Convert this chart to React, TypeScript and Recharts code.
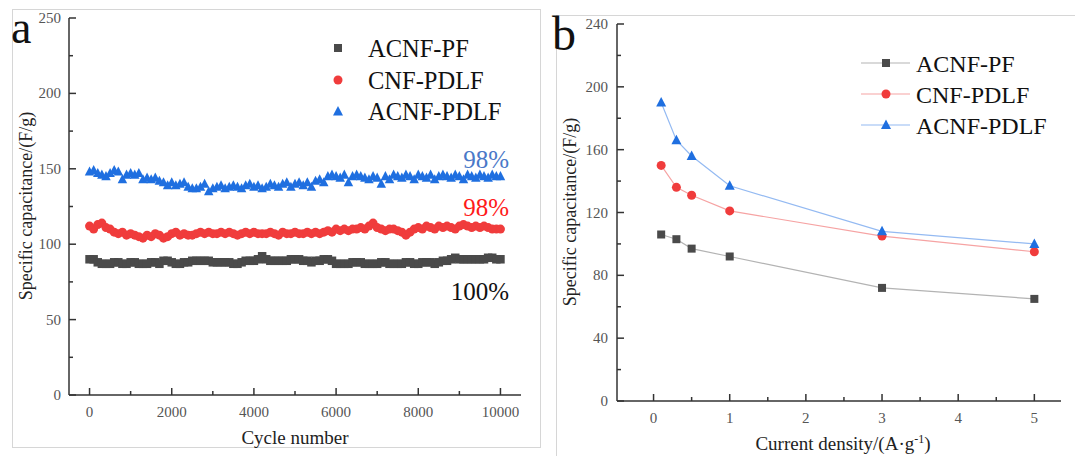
import React from 'react';
import { ComposedChart, Line, XAxis, YAxis } from 'recharts';

const FONT = '"Liberation Serif", "Times New Roman", serif';
const AXIS = '#333';
const TICK_TEXT = '#555';

const GRAY = '#4a4a4a';
const RED = '#f03c3c';
const BLUE = '#1f6fe0';

const seriesNames = ['ACNF-PF', 'CNF-PDLF', 'ACNF-PDLF'];
const retentionLabels = ['100%', '98%', '98%'];

// Panel a: cycling stability
const cycleNumbers = [
  0, 100, 200, 300, 400, 500, 600, 700, 800, 900,
  1000, 1100, 1200, 1300, 1400, 1500, 1600, 1700, 1800, 1900,
  2000, 2100, 2200, 2300, 2400, 2500, 2600, 2700, 2800, 2900,
  3000, 3100, 3200, 3300, 3400, 3500, 3600, 3700, 3800, 3900,
  4000, 4100, 4200, 4300, 4400, 4500, 4600, 4700, 4800, 4900,
  5000, 5100, 5200, 5300, 5400, 5500, 5600, 5700, 5800, 5900,
  6000, 6100, 6200, 6300, 6400, 6500, 6600, 6700, 6800, 6900,
  7000, 7100, 7200, 7300, 7400, 7500, 7600, 7700, 7800, 7900,
  8000, 8100, 8200, 8300, 8400, 8500, 8600, 8700, 8800, 8900,
  9000, 9100, 9200, 9300, 9400, 9500, 9600, 9700, 9800, 9900,
  10000,
];
const acnfPfCycle = [
  90, 90, 88, 87, 87, 87, 88, 88, 87, 87,
  88, 88, 87, 87, 87, 88, 88, 87, 89, 89,
  88, 87, 87, 88, 88, 89, 89, 89, 89, 89,
  88, 88, 88, 88, 88, 87, 87, 88, 89, 89,
  89, 90, 92, 90, 89, 89, 89, 89, 89, 90,
  90, 90, 89, 89, 88, 89, 89, 90, 90, 89,
  87, 87, 87, 87, 88, 88, 88, 87, 87, 87,
  87, 88, 88, 87, 87, 87, 87, 88, 88, 87,
  87, 88, 88, 88, 87, 88, 89, 89, 90, 91,
  90, 90, 90, 90, 90, 90, 90, 91, 91, 90,
  90,
];
const cnfPdlfCycle = [
  112, 110, 113, 114, 111, 110, 108, 107, 108, 106,
  107, 106, 105, 104, 106, 105, 107, 106, 104, 105,
  107, 108, 106, 107, 106, 106, 107, 108, 107, 108,
  107, 107, 108, 107, 108, 107, 106, 107, 108, 107,
  108, 107, 107, 107, 108, 107, 106, 108, 107, 107,
  108, 107, 107, 108, 107, 108, 107, 108, 109, 108,
  110, 109, 110, 109, 110, 110, 111, 110, 112, 114,
  111, 110, 109, 110, 110, 109, 108, 106, 108, 110,
  111, 110, 112, 111, 110, 112, 111, 112, 111, 110,
  112, 113, 112, 111, 112, 111, 112, 111, 110, 110,
  110,
];
const acnfPdlfCycle = [
  148, 149, 147, 146, 145, 147, 149, 148, 143, 146,
  147, 146, 147, 143, 144, 143, 144, 142, 141, 139,
  141, 139, 140, 141, 138, 137, 137, 138, 140, 135,
  137, 138, 139, 137, 138, 139, 138, 137, 139, 140,
  138, 139, 137, 138, 140, 139, 138, 140, 141, 138,
  140, 141, 139, 141, 138, 142, 143, 141, 145, 146,
  145, 144, 146, 141, 145, 146, 145, 144, 143, 145,
  144, 140, 145, 143, 146, 145, 144, 146, 145, 143,
  146, 145, 144, 146, 143, 145, 146, 145, 144, 146,
  145, 143, 146, 145, 144, 146, 145, 144, 146, 145,
  145,
];

// Panel b: rate capability
const currentDensity = [0.1, 0.3, 0.5, 1, 3, 5];
const acnfPfRate = [106, 103, 97, 92, 72, 65];
const cnfPdlfRate = [150, 136, 131, 121, 105, 95];
const acnfPdlfRate = [190, 166, 156, 137, 108, 100];

const xTicksA = [0, 1000, 2000, 3000, 4000, 5000, 6000, 7000, 8000, 9000, 10000];
const xMajorA = [0, 2000, 4000, 6000, 8000, 10000];
const yTicksA = [0, 25, 50, 75, 100, 125, 150, 175, 200, 225, 250];
const yMajorA = [0, 50, 100, 150, 200, 250];

const xTicksB = [0, 0.5, 1, 1.5, 2, 2.5, 3, 3.5, 4, 4.5, 5];
const xMajorB = [0, 1, 2, 3, 4, 5];
const yTicksB = [0, 20, 40, 60, 80, 100, 120, 140, 160, 180, 200, 220, 240];
const yMajorB = [0, 40, 80, 120, 160, 200, 240];

const dataA = cycleNumbers.map((c, i) => ({
  x: c,
  pf: acnfPfCycle[i],
  cnf: cnfPdlfCycle[i],
  acnf: acnfPdlfCycle[i],
}));
const dataB = currentDensity.map((c, i) => ({
  x: c,
  pf: acnfPfRate[i],
  cnf: cnfPdlfRate[i],
  acnf: acnfPdlfRate[i],
}));

const isIn = (arr: number[], v: number) => arr.some((a) => Math.abs(a - v) < 1e-9);

const makeXTick = (majors: number[], dy: number) => (props: any) => {
  const { x, y, payload } = props;
  const v = payload.value;
  const major = isIn(majors, v);
  return (
    <g>
      <line x1={x} x2={x} y1={y} y2={y - (major ? 7 : 4)} stroke={AXIS} strokeWidth={1.5} />
      {major && (
        <text x={x} y={y + dy} textAnchor="middle" fill={TICK_TEXT} fontSize={15} fontFamily={FONT}>
          {v}
        </text>
      )}
    </g>
  );
};

const makeYTick = (majors: number[], dx: number) => (props: any) => {
  const { x, y, payload } = props;
  const v = payload.value;
  const major = isIn(majors, v);
  return (
    <g>
      <line x1={x} x2={x + (major ? 7 : 4)} y1={y} y2={y} stroke={AXIS} strokeWidth={1.5} />
      {major && (
        <text x={x - dx} y={y + 5} textAnchor="end" fill={TICK_TEXT} fontSize={15} fontFamily={FONT}>
          {v}
        </text>
      )}
    </g>
  );
};

const squareDot = (color: string, s: number) => (props: any) => {
  const { cx, cy, index } = props;
  if (cx == null || cy == null) return <g key={`s${index}`} />;
  return <rect key={`s${index}`} x={cx - s / 2} y={cy - s / 2} width={s} height={s} fill={color} />;
};
const circleDot = (color: string, r: number) => (props: any) => {
  const { cx, cy, index } = props;
  if (cx == null || cy == null) return <g key={`c${index}`} />;
  return <circle key={`c${index}`} cx={cx} cy={cy} r={r} fill={color} />;
};
const triPoints = (cx: number, cy: number, w: number) =>
  `${cx},${cy - w * 0.55} ${cx - w / 2},${cy + w * 0.4} ${cx + w / 2},${cy + w * 0.4}`;
const triDot = (color: string, w: number) => (props: any) => {
  const { cx, cy, index } = props;
  if (cx == null || cy == null) return <g key={`t${index}`} />;
  return <polygon key={`t${index}`} points={triPoints(cx, cy, w)} fill={color} />;
};

const PanelA = () => (
  <ComposedChart width={540} height={456} data={dataA} margin={{ top: 18, right: 19, bottom: 0, left: 0 }}>
    <XAxis
      xAxisId="b"
      dataKey="x"
      type="number"
      domain={[-500, 10500]}
      ticks={xTicksA}
      interval={0}
      tickSize={0}
      tickMargin={0}
      tickLine={false}
      tick={makeXTick(xMajorA, 22)}
      axisLine={{ stroke: AXIS, strokeWidth: 1.5 }}
      height={61}
      allowDataOverflow
    />
    <XAxis
      xAxisId="t"
      orientation="top"
      dataKey="x"
      type="number"
      domain={[-500, 10500]}
      tick={false}
      tickLine={false}
      axisLine={{ stroke: AXIS, strokeWidth: 1.5 }}
      height={0}
    />
    <YAxis
      yAxisId="l"
      type="number"
      domain={[0, 250]}
      ticks={yTicksA}
      interval={0}
      tickSize={0}
      tickMargin={0}
      tickLine={false}
      tick={makeYTick(yMajorA, 8)}
      axisLine={{ stroke: AXIS, strokeWidth: 1.5 }}
      width={69}
      allowDataOverflow
    />
    <YAxis
      yAxisId="r"
      orientation="right"
      type="number"
      domain={[0, 250]}
      tick={false}
      tickLine={false}
      axisLine={{ stroke: AXIS, strokeWidth: 1.5 }}
      width={0}
    />
    <Line xAxisId="b" yAxisId="l" dataKey="pf" stroke="none" dot={squareDot(GRAY, 8.5)} activeDot={false} isAnimationActive={false} />
    <Line xAxisId="b" yAxisId="l" dataKey="cnf" stroke="none" dot={circleDot(RED, 4.5)} activeDot={false} isAnimationActive={false} />
    <Line xAxisId="b" yAxisId="l" dataKey="acnf" stroke="none" dot={triDot(BLUE, 9.5)} activeDot={false} isAnimationActive={false} />
  </ComposedChart>
);

const PanelB = () => (
  <ComposedChart width={535} height={456} data={dataB} margin={{ top: 24, right: 14, bottom: 0, left: 0 }}>
    <XAxis
      xAxisId="b"
      dataKey="x"
      type="number"
      domain={[-0.48, 5.35]}
      ticks={xTicksB}
      interval={0}
      tickSize={0}
      tickMargin={0}
      tickLine={false}
      tick={makeXTick(xMajorB, 22)}
      axisLine={{ stroke: AXIS, strokeWidth: 1.5 }}
      height={55}
      allowDataOverflow
    />
    <XAxis
      xAxisId="t"
      orientation="top"
      dataKey="x"
      type="number"
      domain={[-0.48, 5.35]}
      tick={false}
      tickLine={false}
      axisLine={{ stroke: AXIS, strokeWidth: 1.5 }}
      height={0}
    />
    <YAxis
      yAxisId="l"
      type="number"
      domain={[0, 240]}
      ticks={yTicksB}
      interval={0}
      tickSize={0}
      tickMargin={0}
      tickLine={false}
      tick={makeYTick(yMajorB, 9)}
      axisLine={{ stroke: AXIS, strokeWidth: 1.5 }}
      width={77}
      allowDataOverflow
    />
    <YAxis
      yAxisId="r"
      orientation="right"
      type="number"
      domain={[0, 240]}
      tick={false}
      tickLine={false}
      axisLine={{ stroke: AXIS, strokeWidth: 1.5 }}
      width={0}
    />
    <Line xAxisId="b" yAxisId="l" type="linear" dataKey="pf" stroke="#b3b3b3" strokeWidth={1.2} dot={squareDot(GRAY, 8)} activeDot={false} isAnimationActive={false} />
    <Line xAxisId="b" yAxisId="l" type="linear" dataKey="cnf" stroke="#f6a3a3" strokeWidth={1.2} dot={circleDot(RED, 4.5)} activeDot={false} isAnimationActive={false} />
    <Line xAxisId="b" yAxisId="l" type="linear" dataKey="acnf" stroke="#94baf2" strokeWidth={1.2} dot={triDot(BLUE, 10)} activeDot={false} isAnimationActive={false} />
  </ComposedChart>
);

const markerFor = (i: number, cx: number, cy: number) => {
  if (i === 0) return <rect x={cx - 4} y={cy - 4} width={8} height={8} fill={GRAY} />;
  if (i === 1) return <circle cx={cx} cy={cy} r={4.5} fill={RED} />;
  return <polygon points={triPoints(cx, cy, 10)} fill={BLUE} />;
};

const legendRowsA = [48, 80, 111.5];
const legendRowsB = [63, 94, 125];
const legendLineColors = ['#b3b3b3', '#f6a3a3', '#94baf2'];

const Overlay = () => (
  <svg width={1075} height={456} style={{ position: 'absolute', left: 0, top: 0, pointerEvents: 'none' }}>
    <text x={11} y={43} fontSize={46} fontFamily={FONT} fill="#111">a</text>
    <text x={552} y={50} fontSize={48} fontFamily={FONT} fill="#111">b</text>

    <text
      transform="translate(26,206) rotate(-90)"
      textAnchor="middle"
      dominantBaseline="central"
      fontSize={18}
      fontFamily={FONT}
      fill="#222"
    >
      Specific capacitance/(F/g)
    </text>
    <text x={295} y={444} textAnchor="middle" fontSize={19} fontFamily={FONT} fill="#222">
      Cycle number
    </text>

    <text
      transform="translate(570,212) rotate(-90)"
      textAnchor="middle"
      dominantBaseline="central"
      fontSize={18}
      fontFamily={FONT}
      fill="#222"
    >
      Specific capacitance/(F/g)
    </text>
    <text x={843} y={450} textAnchor="middle" fontSize={19} fontFamily={FONT} fill="#222">
      Current density/(A·g<tspan dy={-7} fontSize={12}>-1</tspan><tspan dy={7}>)</tspan>
    </text>

    {seriesNames.map((n, i) => (
      <g key={`la${i}`}>
        {markerFor(i, 338, legendRowsA[i])}
        <text x={368} y={legendRowsA[i] + 8.5} fontSize={24.5} fontFamily={FONT} fill="#111">{n}</text>
      </g>
    ))}

    {seriesNames.map((n, i) => (
      <g key={`lb${i}`}>
        <line x1={861} x2={910} y1={legendRowsB[i]} y2={legendRowsB[i]} stroke={legendLineColors[i]} strokeWidth={1.2} />
        {markerFor(i, 886, legendRowsB[i])}
        <text x={916} y={legendRowsB[i] + 8.5} fontSize={24} fontFamily={FONT} fill="#111">{n}</text>
      </g>
    ))}

    <text x={509} y={168} textAnchor="end" fontSize={25} fontFamily={FONT} fill="#4a78c8">{retentionLabels[2]}</text>
    <text x={509} y={216} textAnchor="end" fontSize={25} fontFamily={FONT} fill="#ff1a1a">{retentionLabels[1]}</text>
    <text x={509} y={300} textAnchor="end" fontSize={25} fontFamily={FONT} fill="#111">{retentionLabels[0]}</text>
  </svg>
);

export default function App() {
  return (
    <div style={{ position: 'absolute', left: 0, top: 0, width: 1075, height: 456, background: '#fff', overflow: 'hidden' }}>
      <div style={{ position: 'absolute', left: 12, top: 9, width: 529, height: 439, border: '1px solid #d6d6d6', boxSizing: 'border-box' }} />
      <div style={{ position: 'absolute', left: 556, top: 15, width: 530, height: 460, border: '1px solid #d6d6d6', boxSizing: 'border-box' }} />
      <div style={{ position: 'absolute', left: 0, top: 0 }}>
        <PanelA />
      </div>
      <div style={{ position: 'absolute', left: 540, top: 0 }}>
        <PanelB />
      </div>
      <Overlay />
    </div>
  );
}
